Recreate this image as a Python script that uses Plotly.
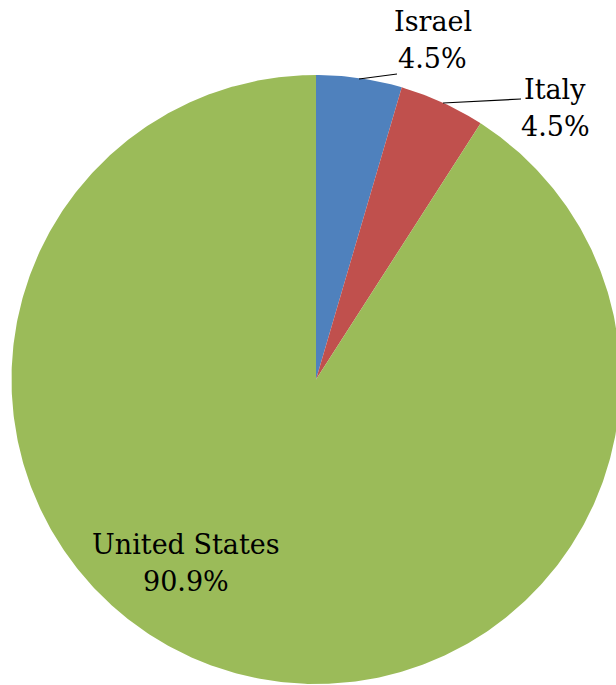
import numpy as np
import plotly.graph_objects as go

# Country shares
countries = ["Israel", "Italy", "United States"]
counts = [1, 1, 20]
colors = ["#4F81BD", "#C0504D", "#9BBB59"]

W, H = 616, 685
CX, CY, R = 316.0, 379.5, 304.5   # pie centre and radius (pixel units)
FONT = "DejaVu Serif"
FS = 27

total = float(sum(counts))
shares = [c / total for c in counts]

fig = go.Figure()

# Slices start at 12 o'clock and run clockwise
start = 0.0
for name, share, col in zip(countries, shares, colors):
    a0, a1 = start * 2 * np.pi, (start + share) * 2 * np.pi
    n = max(int(share * 720), 4)
    t = np.linspace(a0, a1, n)
    xs = np.concatenate([[CX], CX + R * np.sin(t), [CX]])
    ys = np.concatenate([[CY], CY - R * np.cos(t), [CY]])
    fig.add_trace(go.Scatter(
        x=xs, y=ys, mode="lines", fill="toself", fillcolor=col,
        line=dict(width=0, color=col), hoverinfo="text",
        text=f"{name}: {share * 100:.1f}%", showlegend=False,
    ))
    start += share

# Label positions: (x, first-line y, second-line y)
label_pos = {
    "Israel": (432.5, 21, 58),
    "Italy": (555, 89, 126),
    "United States": (186, 544, 581),
}
# Leader lines for the small slices
leaders = {
    "Israel": [(359, 79), (397, 74)],
    "Italy": [(443, 103), (521, 99)],
}

for name, share in zip(countries, shares):
    lx, y1, y2 = label_pos[name]
    for txt, yy in ((name, y1), (f"{share * 100:.1f}%", y2)):
        fig.add_annotation(
            x=lx, y=yy, xref="x", yref="y", text=txt, showarrow=False,
            xanchor="center", yanchor="middle",
            font=dict(family=FONT, size=FS, color="black"),
        )
    if name in leaders:
        (x0, y0), (x1, y1_) = leaders[name]
        fig.add_shape(type="line", x0=x0, y0=y0, x1=x1, y1=y1_,
                      xref="x", yref="y", line=dict(color="black", width=1.2))

fig.update_layout(
    width=W, height=H,
    margin=dict(l=0, r=0, t=0, b=0),
    paper_bgcolor="white", plot_bgcolor="white",
    xaxis=dict(range=[0, W], visible=False, fixedrange=True),
    yaxis=dict(range=[H, 0], visible=False, fixedrange=True),
)

fig.write_html("out.html")
